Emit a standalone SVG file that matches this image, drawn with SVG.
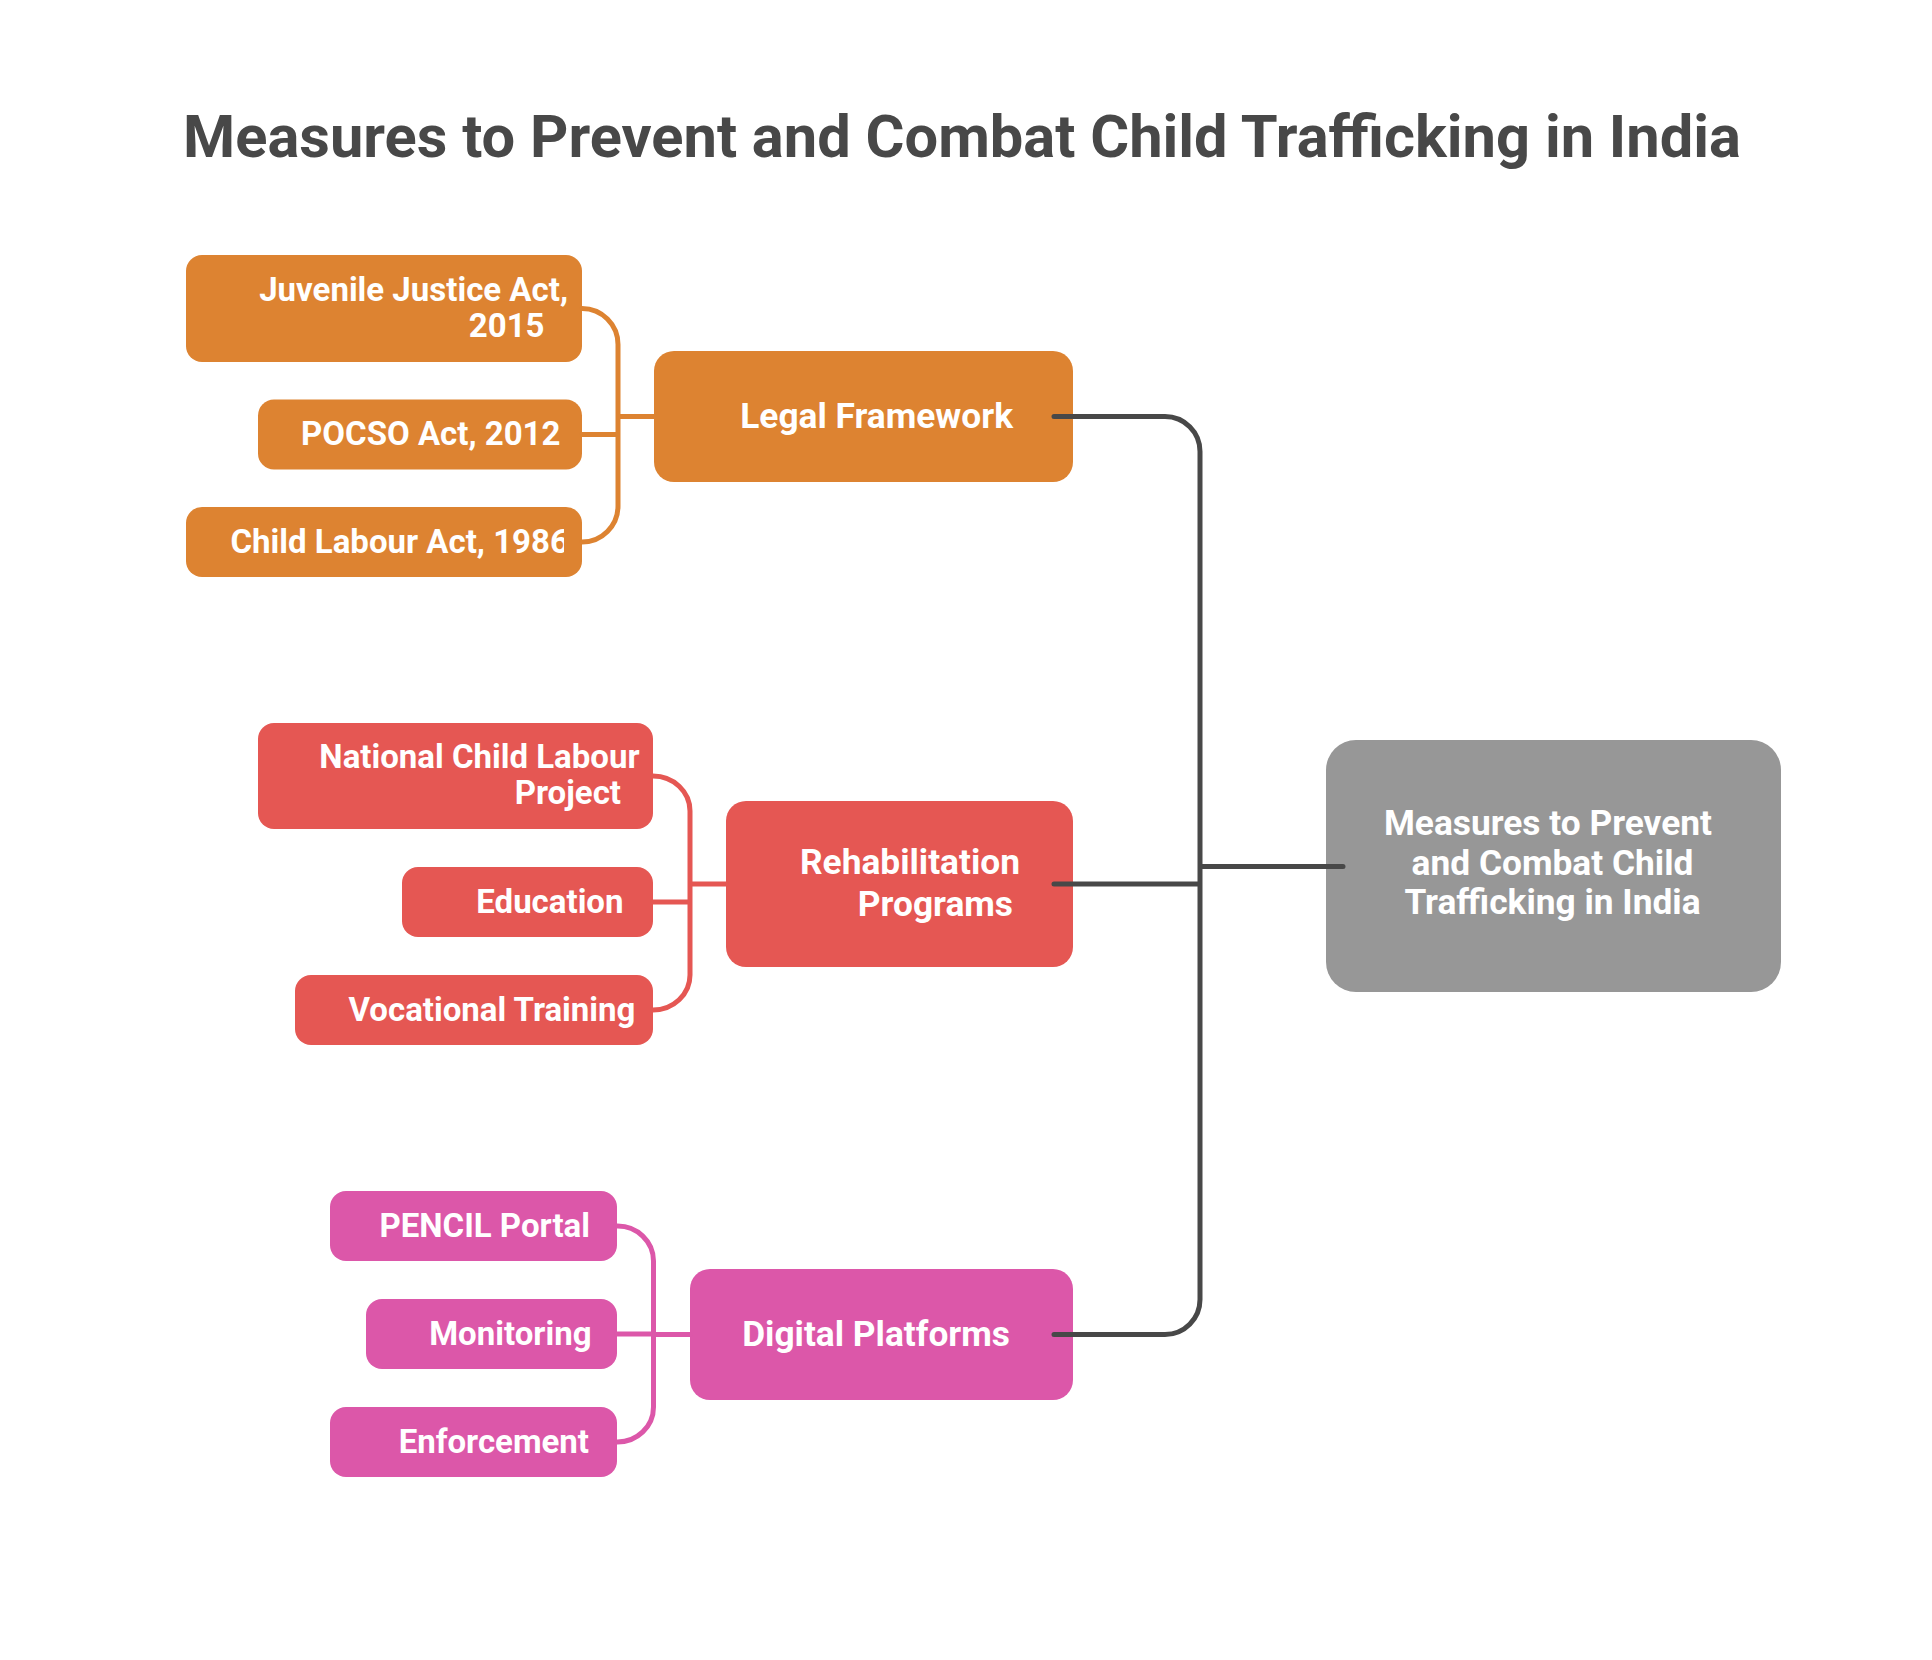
<svg xmlns="http://www.w3.org/2000/svg" width="1932" height="1660" viewBox="0 0 1932 1660">
<defs>
<style>
text{font-family:Roboto,"Liberation Sans",sans-serif;font-weight:700;fill:#ffffff}
.title{fill:#484848;font-size:59.6px}
.c{font-size:33px}
.p{font-size:35.3px}
.m{font-size:35.3px}
.or{fill:#DD8331}
.rd{fill:#E55753}
.pk{fill:#DC57A9}
.gy{fill:#979797}
.ln{fill:none;stroke-width:5;stroke-linecap:round;stroke-linejoin:round}
</style>
<clipPath id="clipCL"><rect x="186" y="507" width="378" height="70"/></clipPath>
<clipPath id="clipVT"><rect x="295" y="975" width="339" height="70"/></clipPath>
</defs>
<rect width="1932" height="1660" fill="#ffffff"/>
<text class="title" x="962" y="157" text-anchor="middle">Measures to Prevent and Combat Child Trafficking in India</text>

<g id="node-juvenile">
<rect class="or" x="186" y="255" width="396" height="107" rx="16"/>
<text class="c" x="568" y="300.5" text-anchor="end">Juvenile Justice Act,</text>
<text class="c" x="544.5" y="336.5" text-anchor="end">2015</text>
</g>
<g id="node-pocso">
<rect class="or" x="258" y="399.5" width="324" height="70" rx="16"/>
<text class="c" x="560.5" y="445" text-anchor="end">POCSO Act, 2012</text>
</g>
<g id="node-childlabour">
<rect class="or" x="186" y="507" width="396" height="70" rx="16"/>
<text class="c" x="230.5" y="553" clip-path="url(#clipCL)">Child Labour Act, 1986</text>
</g>
<g id="node-legal">
<rect class="or" x="654" y="351" width="419" height="131" rx="20"/>
<text class="p" x="1013" y="427.5" text-anchor="end">Legal Framework</text>
</g>

<g id="node-nclp">
<rect class="rd" x="258" y="723" width="395" height="106" rx="16"/>
<text class="c" x="639.5" y="767.5" text-anchor="end">National Child Labour</text>
<text class="c" x="621" y="804" text-anchor="end">Project</text>
</g>
<g id="node-education">
<rect class="rd" x="402" y="867" width="251" height="70" rx="16"/>
<text class="c" x="623.5" y="913" text-anchor="end">Education</text>
</g>
<g id="node-vocational">
<rect class="rd" x="295" y="975" width="358" height="70" rx="16"/>
<text class="c" x="348.5" y="1021" clip-path="url(#clipVT)">Vocational Training</text>
</g>
<g id="node-rehab">
<rect class="rd" x="726" y="801" width="347" height="166" rx="20"/>
<text class="p" x="1020" y="873.5" text-anchor="end">Rehabilitation</text>
<text class="p" x="1013" y="915.5" text-anchor="end">Programs</text>
</g>

<g id="node-pencil">
<rect class="pk" x="330" y="1191" width="287" height="70" rx="16"/>
<text class="c" x="590" y="1237" text-anchor="end">PENCIL Portal</text>
</g>
<g id="node-monitoring">
<rect class="pk" x="366" y="1299" width="251" height="70" rx="16"/>
<text class="c" x="591.5" y="1345" text-anchor="end">Monitoring</text>
</g>
<g id="node-enforcement">
<rect class="pk" x="330" y="1407" width="287" height="70" rx="16"/>
<text class="c" x="589" y="1453" text-anchor="end">Enforcement</text>
</g>
<g id="node-digital">
<rect class="pk" x="690" y="1269" width="383" height="131" rx="20"/>
<text class="p" x="1010" y="1346" text-anchor="end">Digital Platforms</text>
</g>

<g id="node-center">
<rect class="gy" x="1326" y="740" width="455" height="252" rx="30"/>
<text class="m" x="1548" y="835" text-anchor="middle">Measures to Prevent</text>
<text class="m" x="1552.5" y="874.5" text-anchor="middle">and Combat Child</text>
<text class="m" x="1552.5" y="914" text-anchor="middle">Trafficking in India</text>
</g>

<g id="connectors">
<path class="ln" stroke="#DD8331" stroke-linecap="butt" d="M582,308.5 A36,36 0 0 1 618,344.5 V506 A36,36 0 0 1 582,542 M582,434.5 H618 M618,416.5 H654"/>
<path class="ln" stroke="#E55753" stroke-linecap="butt" d="M653,776 A37,35 0 0 1 690,811 V975 A37,35 0 0 1 653,1010 M653,902 H690 M690,884 H726"/>
<path class="ln" stroke="#DC57A9" stroke-linecap="butt" d="M617,1226 A36,35 0 0 1 653.5,1261 V1407 A36,35 0 0 1 617,1442 M617,1334 H653.5 M653.5,1334.5 H690"/>
<path class="ln" stroke="#484848" d="M1054,416.5 H1165 A35,35 0 0 1 1200,451.5 V1299.5 A35,35 0 0 1 1165,1334.5 H1054 M1054,884 H1200 M1200,866.5 H1343"/>
</g>
</svg>
